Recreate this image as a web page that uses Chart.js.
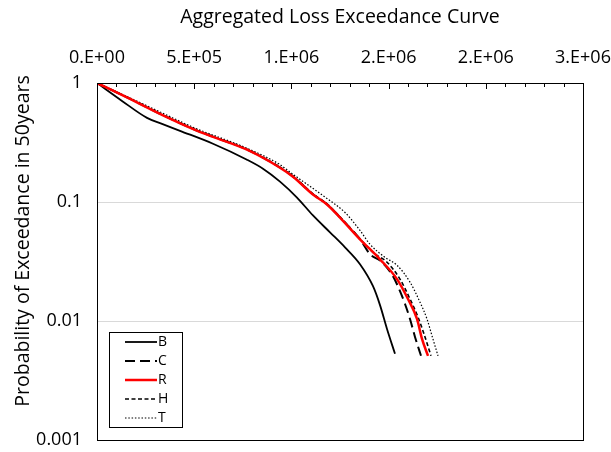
<!DOCTYPE html>
<html><head><meta charset="utf-8">
<script src="https://cdn.jsdelivr.net/npm/chart.js@4/dist/chart.umd.min.js"></script>
<style>html,body{margin:0;padding:0;background:#fff}#wrap{width:611px;height:452px;position:relative}</style>
</head><body><div id="wrap"><canvas id="c" width="611" height="452"></canvas></div>
<script>
const chartTitle = 'Aggregated Loss Exceedance Curve';
const yTitle = 'Probability of Exceedance in 50years';
const xTickLabels = ['0.E+00','5.E+05','1.E+06','2.E+06','2.E+06','3.E+06'];
const yTickValues = [1, 0.1, 0.01, 0.001];
const seriesNames = ['B','C','R','H','T'];

const lossB = [0, 128600, 257200, 334400, 427000, 596700, 771600, 853900, 941400, 1028800, 1111100, 1198600, 1275700, 1352900, 1419800, 1455800, 1491800, 1532900];
const probB = [1, 0.707, 0.5095, 0.4537, 0.3965, 0.3087, 0.2268, 0.1906, 0.1484, 0.109, 0.0771, 0.0556, 0.0416, 0.030, 0.0196, 0.0136, 0.00857, 0.0053];

const lossC = [0, 159500, 334400, 504100, 596700, 771600, 941400, 1008200, 1111100, 1183100, 1250000, 1352900, 1404300, 1460900, 1522600, 1558600, 1584400, 1610100, 1635800, 1666700];
const probC = [1, 0.750, 0.541, 0.405, 0.354, 0.276, 0.195, 0.164, 0.116, 0.0958, 0.0742, 0.0487, 0.0364, 0.0318, 0.0238, 0.0178, 0.0139, 0.0104, 0.00735, 0.0051];

const lossR = [0, 159500, 334400, 504100, 596700, 771600, 941400, 1008200, 1111100, 1183100, 1250000, 1352900, 1455800, 1543200, 1599800, 1646100, 1671800, 1702700];
const probR = [1, 0.749, 0.540, 0.404, 0.353, 0.275, 0.194, 0.163, 0.1155, 0.0953, 0.074, 0.0486, 0.033, 0.0225, 0.0153, 0.0104, 0.00707, 0.0051];

const lossH = [0, 159500, 334400, 504100, 596700, 771600, 941400, 1008200, 1111100, 1183100, 1250000, 1352900, 1424900, 1491800, 1558600, 1610100, 1651200, 1687200, 1718100];
const probH = [1, 0.751, 0.542, 0.406, 0.355, 0.277, 0.196, 0.165, 0.117, 0.0963, 0.075, 0.0490, 0.0371, 0.0312, 0.0225, 0.0153, 0.0108, 0.00735, 0.0051];

const lossT = [0, 159500, 334400, 504100, 771600, 941400, 1008200, 1183100, 1275700, 1352900, 1404300, 1481500, 1543200, 1610100, 1661500, 1697500, 1723300, 1754100];
const probT = [1, 0.763, 0.561, 0.418, 0.283, 0.206, 0.171, 0.107, 0.0817, 0.0577, 0.0441, 0.0343, 0.0294, 0.0212, 0.0144, 0.0104, 0.0075, 0.0051];

const FONT = "'Open Sans', 'DejaVu Sans', sans-serif";
const pts = (xs, ys) => xs.map((x, i) => ({x: x, y: ys[i]}));

const styles = [
  {color: '#000000', width: 1.8, dash: [], order: 1},
  {color: '#000000', width: 2, dash: [10, 5], order: 2},
  {color: '#ff0000', width: 2.5, dash: [], order: 0},
  {color: '#000000', width: 1.6, dash: [4, 2.5], order: 3},
  {color: '#000000', width: 1.2, dash: [1.5, 1.8], order: 4}
];
const dataPairs = [[lossB, probB], [lossC, probC], [lossR, probR], [lossH, probH], [lossT, probT]];

const datasets = seriesNames.map((name, i) => ({
  label: name,
  data: pts(dataPairs[i][0], dataPairs[i][1]),
  borderColor: styles[i].color,
  backgroundColor: styles[i].color,
  borderWidth: styles[i].width,
  borderDash: styles[i].dash,
  pointRadius: 0,
  fill: false,
  cubicInterpolationMode: 'monotone',
  order: styles[i].order
}));

const decorPlugin = {
  id: 'decor',
  afterDraw(chart) {
    const ctx = chart.ctx;
    const a = chart.chartArea;
    const xs = chart.scales.x;
    ctx.save();
    ctx.strokeStyle = '#000';
    ctx.lineWidth = 1;
    ctx.setLineDash([]);
    ctx.strokeRect(Math.round(a.left) + 0.5, Math.round(a.top) + 0.5, Math.round(a.right - a.left), Math.round(a.bottom - a.top));
    for (let v = 0; v <= 2500000; v += 100000) {
      const px = Math.round(xs.getPixelForValue(v)) + 0.5;
      const major = v % 500000 === 0;
      ctx.beginPath();
      ctx.moveTo(px, a.top);
      ctx.lineTo(px, a.top + (major ? 6 : 4));
      ctx.stroke();
    }
    ctx.fillStyle = '#000';
    ctx.font = "19.5px " + FONT;
    ctx.textAlign = 'center';
    ctx.textBaseline = 'middle';
    ctx.translate(23, 241);
    ctx.rotate(-Math.PI / 2);
    ctx.fillText(yTitle, 0, 0);
    ctx.restore();

    ctx.save();
    const bx = 109.5, by = 332.5, bw = 73, bh = 95;
    ctx.fillStyle = '#fff';
    ctx.fillRect(bx, by, bw, bh);
    ctx.strokeStyle = '#000';
    ctx.lineWidth = 1;
    ctx.strokeRect(bx, by, bw, bh);
    ctx.font = "14px " + FONT;
    ctx.textAlign = 'left';
    ctx.textBaseline = 'middle';
    seriesNames.forEach((name, i) => {
      const y = 342 + i * 19;
      const ds = chart.data.datasets[i];
      ctx.beginPath();
      ctx.strokeStyle = ds.borderColor;
      ctx.lineWidth = ds.borderWidth;
      ctx.setLineDash(ds.borderDash);
      ctx.moveTo(125, y);
      ctx.lineTo(157, y);
      ctx.stroke();
      ctx.setLineDash([]);
      ctx.fillStyle = '#000';
      ctx.fillText(name, 158, y + 0.5);
    });
    ctx.restore();
  }
};

new Chart(document.getElementById('c'), {
  type: 'line',
  data: { datasets: datasets },
  options: {
    responsive: false,
    animation: false,
    devicePixelRatio: 1,
    layout: { padding: { left: 0, top: 0, right: 28, bottom: 12 } },
    plugins: { legend: { display: false }, tooltip: { enabled: false }, title: { display: false } },
    scales: {
      x: {
        type: 'linear',
        position: 'top',
        min: 0,
        max: 2500000,
        afterBuildTicks(s) { s.ticks = [0, 500000, 1000000, 1500000, 2000000, 2500000].map(v => ({value: v})); },
        ticks: {
          callback: (v, i) => xTickLabels[i],
          font: { family: FONT, size: 18 },
          color: '#000',
          padding: 14,
          maxRotation: 0,
          autoSkip: false
        },
        grid: { display: false, drawTicks: false },
        border: { display: false },
        title: { display: true, text: chartTitle, color: '#000', font: { family: FONT, size: 19.5 }, padding: { top: 6, bottom: 0 } },
        afterFit(s) { s.height = 83; s.paddingLeft = 0; s.paddingRight = 0; }
      },
      y: {
        type: 'logarithmic',
        min: 0.001,
        max: 1,
        afterBuildTicks(s) { s.ticks = yTickValues.map(v => ({value: v})); },
        ticks: {
          callback: (v) => String(v),
          font: { family: FONT, size: 18 },
          color: '#000',
          padding: 15,
          autoSkip: false
        },
        grid: { color: '#d9d9d9', lineWidth: 1, drawTicks: false },
        border: { display: false },
        afterFit(s) { s.width = 97; s.paddingTop = 0; s.paddingBottom = 0; }
      }
    }
  },
  plugins: [decorPlugin]
});
</script>
</body></html>
